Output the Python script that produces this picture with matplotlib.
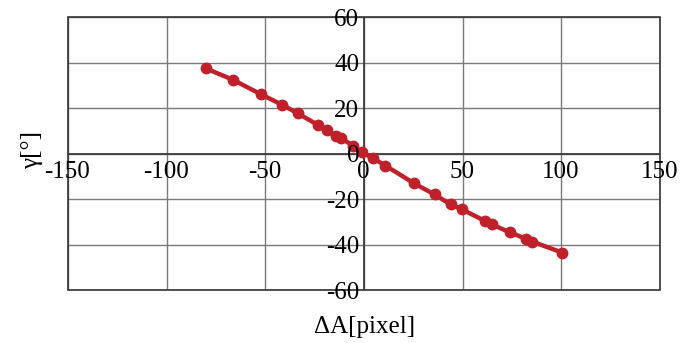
import numpy as np
import matplotlib.pyplot as plt
import matplotlib.transforms as mtransforms
from matplotlib.patches import Rectangle

# данные
delta_a = [-80.2, -66.4, -52.2, -41.7, -33.7, -23.1, -19.0, -14.2, -11.8, -5.7, -1.0,
           4.5, 10.8, 25.1, 35.7, 43.9, 49.4, 61.2, 64.8, 73.7, 82.1, 85.1, 100.5]
gamma = [37.4, 32.4, 26.0, 21.5, 17.7, 12.4, 10.2, 7.5, 6.8, 3.5, 0.5,
         -2.1, -5.3, -13.0, -18.0, -22.4, -24.5, -29.6, -31.2, -34.6, -37.5, -38.7, -43.6]

x_ticks = [-150, -100, -50, 0, 50, 100, 150]
y_ticks = [-60, -40, -20, 0, 20, 40, 60]

plt.rcParams['font.family'] = ['Liberation Serif', 'DejaVu Serif']
plt.rcParams['axes.unicode_minus'] = False

fig = plt.figure(figsize=(6.99, 3.43), dpi=100)
ax = fig.add_axes([0.0973, 0.1545, 0.8471, 0.7959])

ax.set_xlim(-150, 150)
ax.set_ylim(-60, 60)
ax.set_xticks(x_ticks)
ax.set_yticks(y_ticks)
ax.grid(True, color='#7a7a7a', linewidth=1.0)
ax.set_axisbelow(True)
ax.tick_params(length=0, labelbottom=False, labelleft=False)

for s in ax.spines.values():
    s.set_visible(False)
ax.axhline(0, color='#333333', linewidth=1.2, zorder=2)
ax.axvline(0, color='#333333', linewidth=1.2, zorder=2)
ax.add_patch(Rectangle((0, 0), 1, 1, transform=ax.transAxes, fill=False,
                       edgecolor='#333333', linewidth=1.2, clip_on=False, zorder=3))

# подписи делений на осях, проходящих через ноль
tr_x = mtransforms.offset_copy(ax.transData, fig=fig, x=-1, y=-7, units='dots')
tr_y = mtransforms.offset_copy(ax.transData, fig=fig, x=-5, y=0, units='dots')
for v in x_ticks:
    ax.text(v, 0, str(v), transform=tr_x, ha='center', va='top', fontsize=18, zorder=6)
for v in y_ticks:
    ax.text(0, v, str(v), transform=tr_y, ha='right', va='center_baseline', fontsize=18, zorder=6)

ax.plot(delta_a, gamma, color='#C0202A', linewidth=3.2, marker='o', markersize=7.5,
        zorder=4, clip_on=False)

ax.set_xlabel('ΔA[pixel]', fontsize=18)
ax.set_ylabel('γ[°]', fontsize=18)
ax.xaxis.set_label_coords(0.5, -0.095)
ax.yaxis.set_label_coords(-0.042, 0.513)

fig.savefig('out.png', dpi=100)
